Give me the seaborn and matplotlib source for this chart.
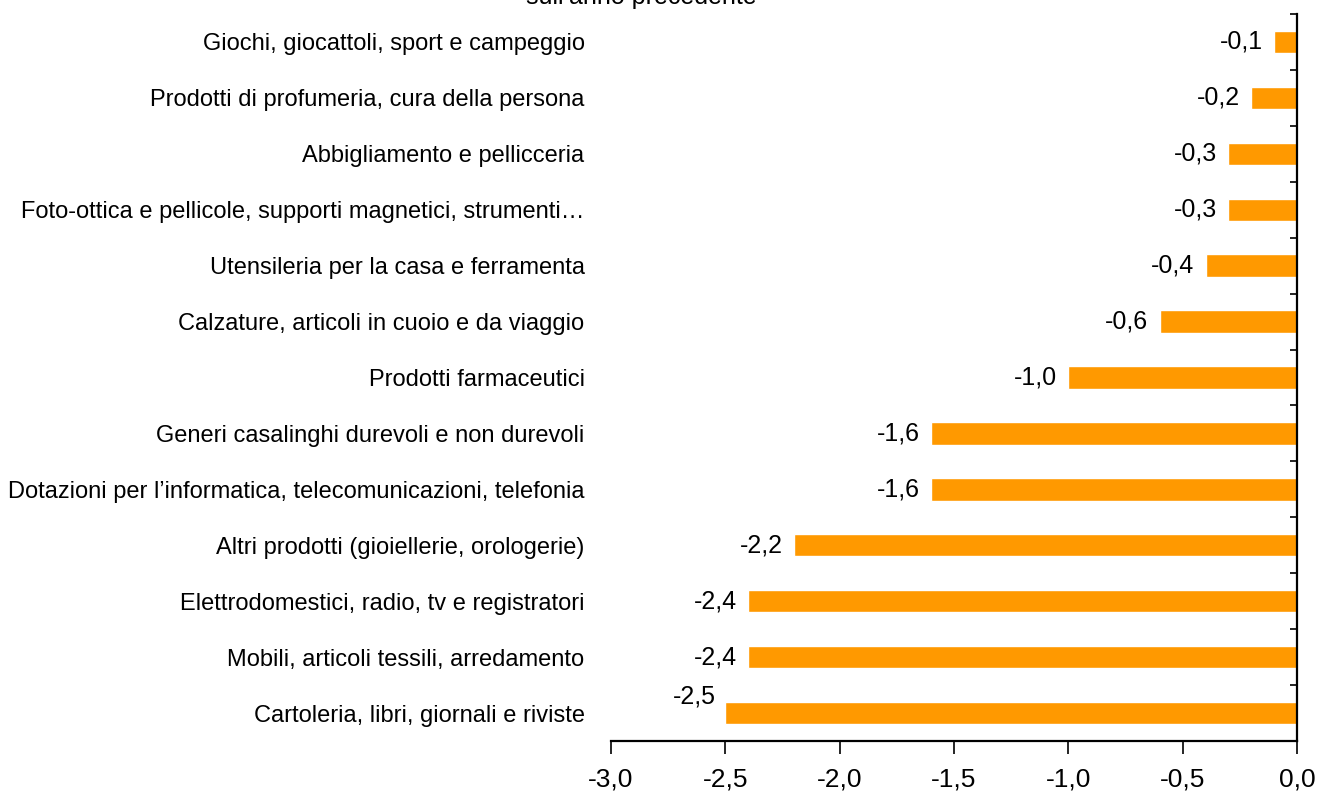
import numpy as np
import pandas as pd
import seaborn as sns
import matplotlib.pyplot as plt
from matplotlib.ticker import FuncFormatter

# Categorie (dall'alto verso il basso) e variazioni sull'anno precedente
categorie = [
    "Giochi, giocattoli, sport e campeggio",
    "Prodotti di profumeria, cura della persona",
    "Abbigliamento e pellicceria",
    "Foto-ottica e pellicole, supporti magnetici, strumenti…",
    "Utensileria per la casa e ferramenta",
    "Calzature, articoli in cuoio e da viaggio",
    "Prodotti farmaceutici",
    "Generi casalinghi durevoli e non durevoli",
    "Dotazioni per l\u2019informatica, telecomunicazioni, telefonia",
    "Altri prodotti (gioiellerie, orologerie)",
    "Elettrodomestici, radio, tv e registratori",
    "Mobili, articoli tessili, arredamento",
    "Cartoleria, libri, giornali e riviste",
]
variazioni = [-0.1, -0.2, -0.3, -0.3, -0.4, -0.6, -1.0, -1.6, -1.6, -2.2, -2.4, -2.4, -2.5]
x_ticks = [-3.0, -2.5, -2.0, -1.5, -1.0, -0.5, 0.0]
titolo = "sull\u2019anno precedente"

df = pd.DataFrame({"categoria": categorie, "variazione": variazioni})

sns.set_style("white")
plt.rcParams['font.family'] = ['Liberation Sans', 'DejaVu Sans']
plt.rcParams['text.color'] = 'black'
plt.rcParams['xtick.color'] = 'black'
plt.rcParams['ytick.color'] = 'black'

fig = plt.figure(figsize=(13.17, 7.92), dpi=100)
ax = fig.add_axes([611 / 1317, 1 - 741 / 792, 686 / 1317, 727 / 792])

sns.barplot(data=df, x="variazione", y="categoria", orient="h", color="#FF9900",
            saturation=1, width=0.4, ax=ax)

ax.set_xlim(-3.0, 0.0)
ax.set_ylim(len(categorie) - 0.5, -0.5)
ax.set_xlabel("")
ax.set_ylabel("")

ax.set_xticks(x_ticks)
ax.xaxis.set_major_formatter(FuncFormatter(lambda v, p: f"{v:.1f}".replace('.', ',')))
ax.tick_params(axis='x', bottom=True, direction='out', length=9, width=1.2, labelsize=19, pad=10)

# etichette categorie a sinistra, tacche sull'asse verticale a destra
ax.set_yticks(np.arange(-0.5, len(categorie), 1), minor=True)
ax.tick_params(axis='y', which='major', left=False, right=False, length=0, labelsize=17, pad=19)
ax.tick_params(axis='y', which='minor', left=False, right=True, direction='in', length=5, width=1.2)

for s in ['top', 'left']:
    ax.spines[s].set_visible(False)
for s in ['right', 'bottom']:
    ax.spines[s].set_visible(True)
    ax.spines[s].set_linewidth(1.6)
    ax.spines[s].set_color('black')

# etichette dei valori
for i, v in enumerate(variazioni):
    lab = f"{v:.1f}".replace('.', ',')
    if i == len(variazioni) - 1:
        ax.text(v - 0.04, i - 0.3, lab, ha='right', va='center', fontsize=18)
    else:
        ax.text(v - 0.05, i, lab, ha='right', va='center', fontsize=18)

fig.text(641 / 1317, 1 - 4 / 792, titolo, ha='center', va='baseline', fontsize=18)

fig.savefig("out.png", dpi=100)
